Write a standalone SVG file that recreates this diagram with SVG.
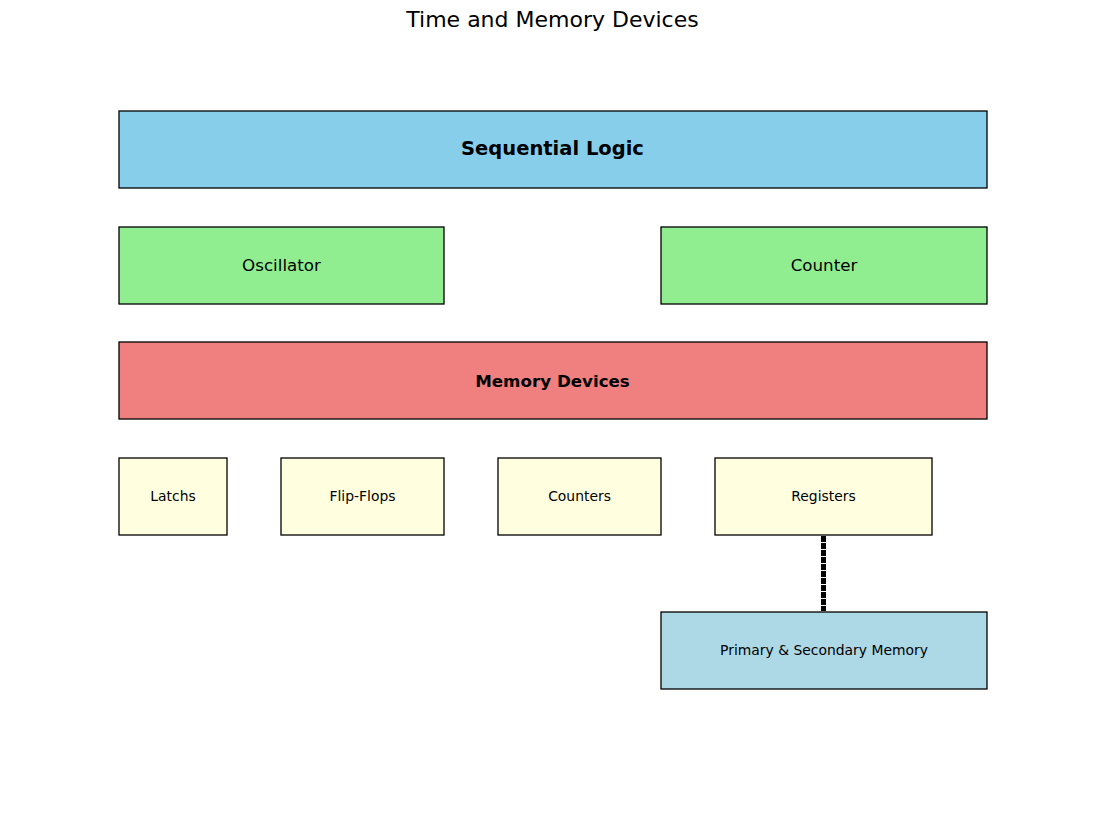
<svg xmlns="http://www.w3.org/2000/svg" width="1105" height="814" viewBox="0 0 1105 814">
<style>
rect{stroke:#000;stroke-width:1.3}
text{font-family:"DejaVu Sans",sans-serif;text-anchor:middle;dominant-baseline:central;fill:#000}
.s{font-size:13.9px}
.m{font-size:16.7px}
</style>
<rect x="0" y="0" width="1105" height="814" fill="#fff" style="stroke:none"/>
<text x="552.5" y="19" style="font-size:22px">Time and Memory Devices</text>
<g id="connectors">
<line x1="823.5" y1="536" x2="823.5" y2="611" stroke="#000" stroke-width="5" stroke-dasharray="6 1"/>
</g>
<g id="sequential"><rect x="119" y="111" width="868" height="77" fill="#87ceeb"/><text x="552.5" y="148.5" style="font-size:19.5px;font-weight:bold">Sequential Logic</text></g>
<g id="oscillator"><rect x="119" y="227" width="325" height="77" fill="#90ee90"/><text class="m" x="281.5" y="264.5">Oscillator</text></g>
<g id="counter"><rect x="661" y="227" width="326" height="77" fill="#90ee90"/><text class="m" x="824" y="264.5">Counter</text></g>
<g id="memory"><rect x="119" y="342" width="868" height="77" fill="#f08080"/><text class="m" x="552.5" y="380.5" style="font-weight:bold">Memory Devices</text></g>
<g id="latchs"><rect x="119" y="458" width="108" height="77" fill="#ffffe0"/><text class="s" x="173" y="495.5">Latchs</text></g>
<g id="flipflops"><rect x="281" y="458" width="163" height="77" fill="#ffffe0"/><text class="s" x="362.5" y="495.5">Flip-Flops</text></g>
<g id="counters"><rect x="498" y="458" width="163" height="77" fill="#ffffe0"/><text class="s" x="579.5" y="495.5">Counters</text></g>
<g id="registers"><rect x="715" y="458" width="217" height="77" fill="#ffffe0"/><text class="s" x="823.5" y="495.5">Registers</text></g>
<g id="primary"><rect x="661" y="612" width="326" height="77" fill="#add8e6"/><text class="s" x="824" y="649.5">Primary &amp; Secondary Memory</text></g>
</svg>
